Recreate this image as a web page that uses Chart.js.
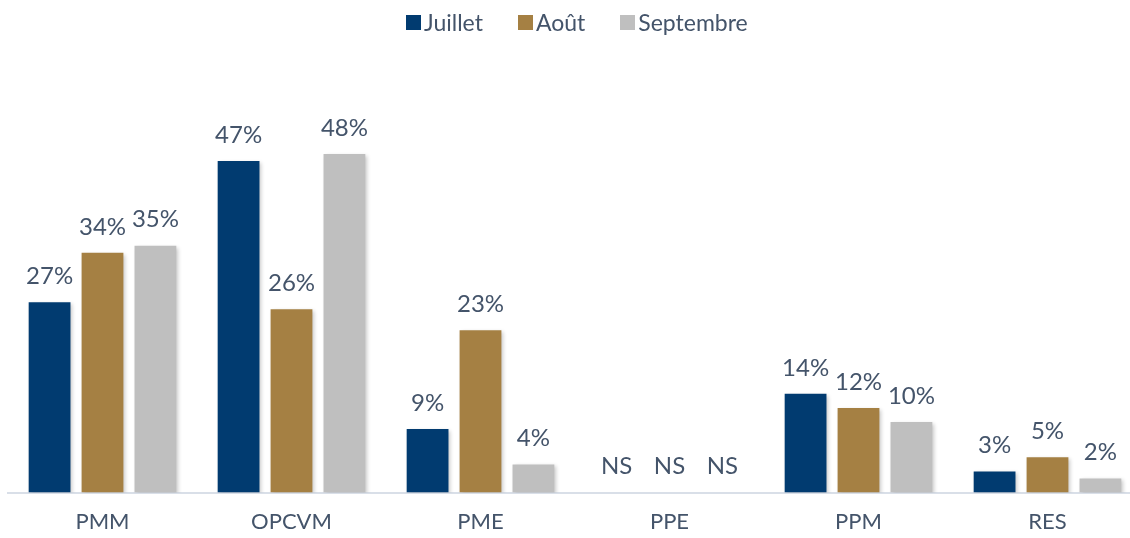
<!DOCTYPE html>
<html>
<head>
<meta charset="utf-8">
<script src="https://cdn.jsdelivr.net/npm/chart.js@4/dist/chart.umd.min.js"></script>
<style>
  html, body { margin: 0; padding: 0; background: #fff; overflow: hidden; }
  #wrap { position: relative; width: 1142px; height: 538px; overflow: hidden; }
  #legend {
    position: absolute; top: 8px; left: 406px;
    display: flex; gap: 35px;
    font-family: Lato, "Noto Sans", sans-serif; font-size: 23px; color: #44546a;
  }
  #legend .item { display: flex; align-items: center; }
  #legend .box { width: 15px; height: 15px; margin-right: 3px; }
</style>
</head>
<body>
<div id="wrap">
  <div id="legend"></div>
  <canvas id="chart" width="1142" height="543"></canvas>
</div>
<script>
const categories = ['PMM', 'OPCVM', 'PME', 'PPE', 'PPM', 'RES'];
const juillet = [27, 47, 9, 0, 14, 3];
const aout = [34, 26, 23, 0, 12, 5];
const septembre = [35, 48, 4, 0, 10, 2];

const textColor = '#44546a';
const fontFamily = 'Lato, "Noto Sans", sans-serif';

// shadow under the bars + value labels above them
const barExtras = {
  id: 'barExtras',
  beforeDatasetsDraw(chart) {
    const ctx = chart.ctx;
    ctx.save();
    ctx.shadowColor = 'rgba(0,0,0,0.22)';
    ctx.shadowBlur = 4;
    ctx.shadowOffsetX = 2;
    ctx.shadowOffsetY = 2;
  },
  afterDatasetsDraw(chart) {
    const ctx = chart.ctx;
    ctx.restore();
    ctx.save();
    ctx.fillStyle = textColor;
    ctx.font = '24px ' + fontFamily;
    ctx.textAlign = 'center';
    ctx.textBaseline = 'middle';
    chart.data.datasets.forEach((ds, i) => {
      chart.getDatasetMeta(i).data.forEach((bar, j) => {
        const v = ds.data[j];
        const txt = v === 0 ? 'NS' : v + '%';
        ctx.fillText(txt, bar.x, bar.y - 26);
      });
    });
    ctx.restore();
  }
};

const chart = new Chart(document.getElementById('chart'), {
  type: 'bar',
  data: {
    labels: categories,
    datasets: [
      { label: 'Juillet', data: juillet, backgroundColor: '#013b70' },
      { label: 'Août', data: aout, backgroundColor: '#a58043' },
      { label: 'Septembre', data: septembre, backgroundColor: '#bfbfbf' }
    ]
  },
  options: {
    responsive: false,
    animation: false,
    layout: { padding: { left: 8, right: 0, top: 20, bottom: 0 } },
    datasets: {
      bar: { categoryPercentage: 0.84, barPercentage: 0.79 }
    },
    plugins: {
      legend: { display: false },
      tooltip: { enabled: false }
    },
    scales: {
      x: {
        grid: { display: false },
        border: { color: '#d9dfe8', width: 2 },
        ticks: { color: textColor, font: { family: fontFamily, size: 22 }, padding: 8 }
      },
      y: {
        display: false,
        min: 0,
        max: 67
      }
    }
  },
  plugins: [barExtras]
});

// html legend built from the datasets
document.getElementById('legend').innerHTML = chart.data.datasets.map(ds => `
  <div class="item"><span class="box" style="background:${ds.backgroundColor}"></span>${ds.label}</div>
`).join('');
</script>
</body>
</html>
